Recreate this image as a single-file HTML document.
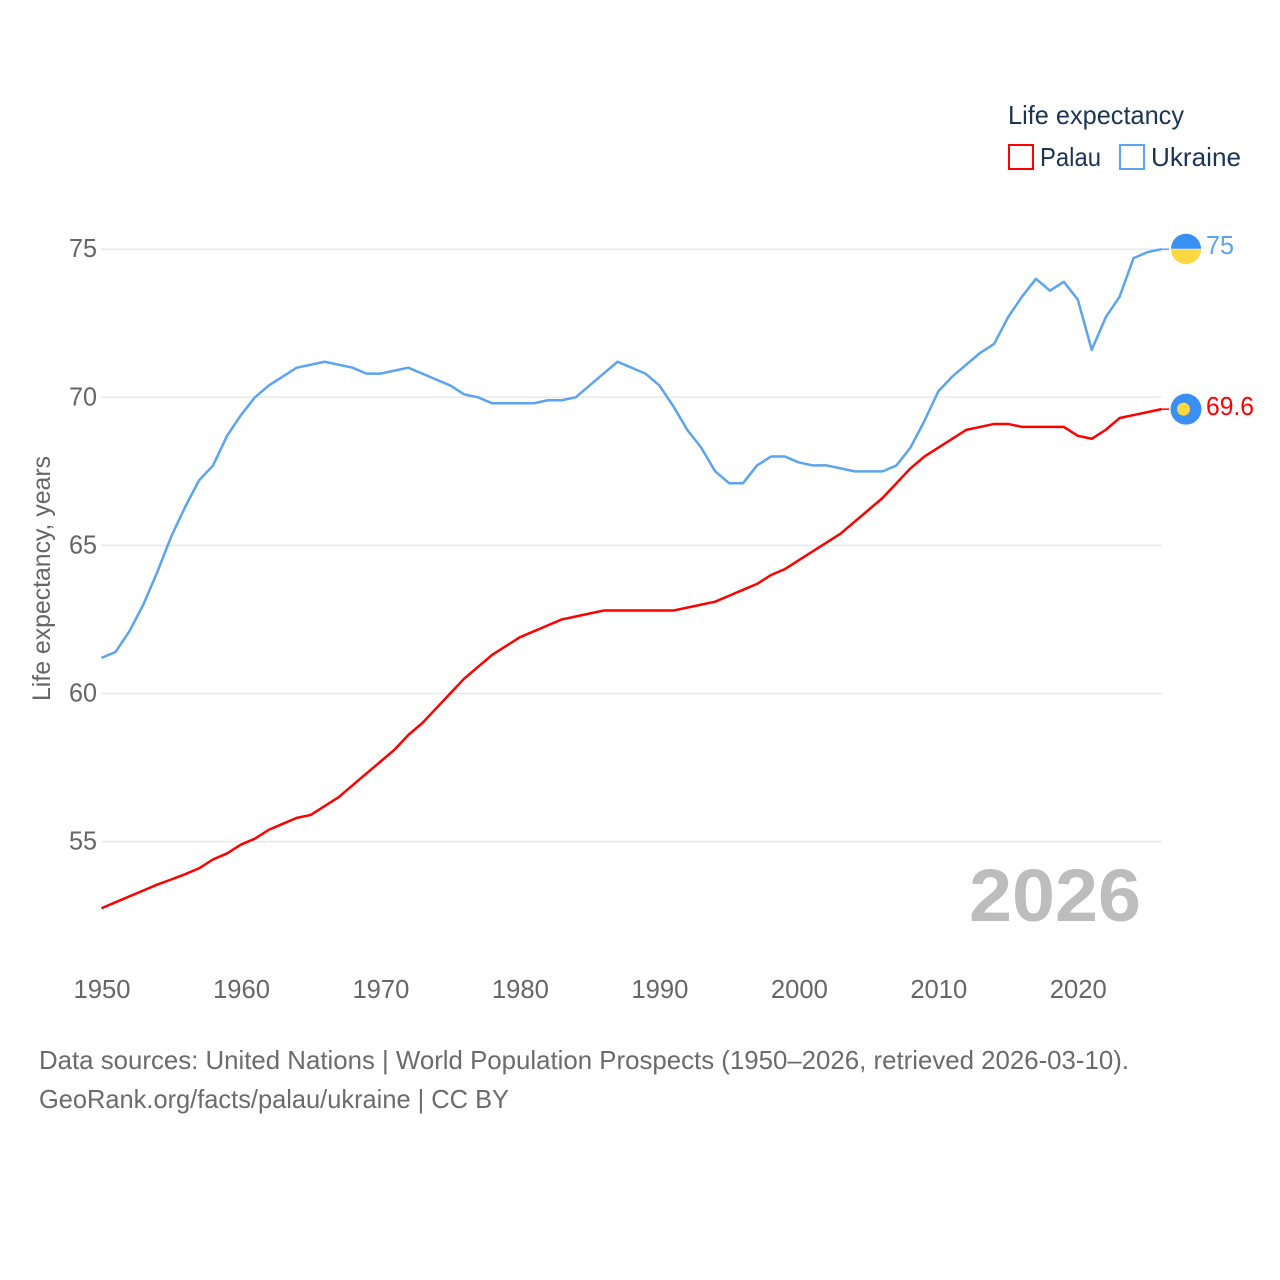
<!DOCTYPE html>
<html lang="en">
<head>
<meta charset="utf-8">
<title>Life expectancy: Palau and Ukraine</title>
<style>
html,body{margin:0;padding:0;background:#fff;}
svg{display:block;}
text{font-family:"Liberation Sans",sans-serif;}
</style>
</head>
<body>
<svg id="chart" xmlns="http://www.w3.org/2000/svg" width="1280" height="1280" viewBox="0 0 1280 1280">
  <rect x="0" y="0" width="1280" height="1280" fill="#ffffff"/>
  <g id="grid"></g>
  <g id="yticks"></g>
  <g id="xticks"></g>
  <text transform="translate(50,701) rotate(-90)" font-size="25" fill="#666666" textLength="245" lengthAdjust="spacingAndGlyphs">Life expectancy, years</text>
  <g id="series"></g>
  <g id="endmarks"></g>
  <text x="969" y="921" font-size="74" font-weight="700" fill="#bdbdbd" textLength="172" lengthAdjust="spacingAndGlyphs">2026</text>
  <g>
    <text x="1008" y="124" font-size="26" fill="#1b3454" textLength="176" lengthAdjust="spacingAndGlyphs">Life expectancy</text>
    <rect x="1009" y="145" width="24" height="24" fill="none" stroke="#ff0000" stroke-width="2"/>
    <text x="1040" y="166" font-size="26" fill="#1b3454" textLength="61" lengthAdjust="spacingAndGlyphs">Palau</text>
    <rect x="1120" y="145" width="24" height="24" fill="none" stroke="#5ba4ef" stroke-width="2"/>
    <text x="1151" y="166" font-size="26" fill="#1b3454" textLength="90" lengthAdjust="spacingAndGlyphs">Ukraine</text>
  </g>
  <text x="39" y="1069" font-size="26" fill="#6b6b6b" textLength="1090" lengthAdjust="spacingAndGlyphs">Data sources: United Nations | World Population Prospects (1950–2026, retrieved 2026-03-10).</text>
  <text x="39" y="1108" font-size="26" fill="#6b6b6b" textLength="470" lengthAdjust="spacingAndGlyphs">GeoRank.org/facts/palau/ukraine | CC BY</text>
</svg>
<script>
const startYear = 1950;
const yTickLabels = [55, 60, 65, 70, 75];
const xTickLabels = [1950, 1960, 1970, 1980, 1990, 2000, 2010, 2020];
const palauValues = [
  52.75,52.95,53.15,53.35,53.55,53.72,53.9,54.1,54.4,54.6,
  54.9,55.1,55.4,55.6,55.8,55.9,56.2,56.5,56.9,57.3,
  57.7,58.1,58.6,59,59.5,60,60.5,60.9,61.3,61.6,
  61.9,62.1,62.3,62.5,62.6,62.7,62.8,62.8,62.8,62.8,
  62.8,62.8,62.9,63,63.1,63.3,63.5,63.7,64,64.2,
  64.5,64.8,65.1,65.4,65.8,66.2,66.6,67.1,67.6,68,
  68.3,68.6,68.9,69,69.1,69.1,69,69,69,69,
  68.7,68.6,68.9,69.3,69.4,69.5,69.6
];
const ukraineValues = [
  61.2,61.4,62.1,63,64.1,65.3,66.3,67.2,67.7,68.7,
  69.4,70,70.4,70.7,71,71.1,71.2,71.1,71,70.8,
  70.8,70.9,71,70.8,70.6,70.4,70.1,70,69.8,69.8,
  69.8,69.8,69.9,69.9,70,70.4,70.8,71.2,71,70.8,
  70.4,69.7,68.9,68.3,67.5,67.1,67.1,67.7,68,68,
  67.8,67.7,67.7,67.6,67.5,67.5,67.5,67.7,68.3,69.2,
  70.2,70.7,71.1,71.5,71.8,72.7,73.4,74,73.6,73.9,
  73.3,71.6,72.7,73.4,74.7,74.9,75
];

const NS = 'http://www.w3.org/2000/svg';
const xScale = function (year) { return 101.5 + (year - 1950) * 13.947; };
const yScale = function (value) { return 693.5 - (value - 60) * 29.62; };
const plotRight = xScale(2026);

function make(tag, parent, attrs) {
  const el = document.createElementNS(NS, tag);
  for (const key in attrs) el.setAttribute(key, attrs[key]);
  parent.appendChild(el);
  return el;
}

const gridGroup = document.getElementById('grid');
const yTickGroup = document.getElementById('yticks');
yTickLabels.forEach(function (tick) {
  const line = make('line', gridGroup, { x1: 101, x2: plotRight, y1: yScale(tick), y2: yScale(tick), stroke: '#e9e9e9', 'stroke-width': 1.5 });
  
  
  const label = make('text', yTickGroup, { x: 69, y: yScale(tick) + 8, 'font-size': 26, fill: '#666666', textLength: 28, lengthAdjust: 'spacingAndGlyphs' });
  label.textContent = tick;
  
  
});

const xTickGroup = document.getElementById('xticks');
xTickLabels.forEach(function (tick) {
  const label = make('text', xTickGroup, { x: xScale(tick) - 28, y: 998, 'font-size': 26, fill: '#666666', textLength: 57, lengthAdjust: 'spacingAndGlyphs' });
  label.textContent = tick;
  
  
});

function pathFor(values) {
  return values.map(function (v, i) {
    return (i ? 'L' : 'M') + xScale(startYear + i).toFixed(2) + ' ' + yScale(v).toFixed(2);
  }).join(' ');
}

const seriesGroup = document.getElementById('series');
const ukraineLine = make('path', seriesGroup, { d: pathFor(ukraineValues), fill: 'none', stroke: '#5ba4ef', 'stroke-width': 2.5, 'stroke-linejoin': 'round' });


const palauLine = make('path', seriesGroup, { d: pathFor(palauValues), fill: 'none', stroke: '#ff0000', 'stroke-width': 2.5, 'stroke-linejoin': 'round' });



const endGroup = document.getElementById('endmarks');
const ukraineLast = ukraineValues[ukraineValues.length - 1];
const palauLast = palauValues[palauValues.length - 1];
const uy = yScale(ukraineLast);
const py = yScale(palauLast);

const uConn = make('line', endGroup, { x1: plotRight, x2: 1169, y1: uy, y2: uy, stroke: '#5ba4ef', 'stroke-width': 1.5 });


const pConn = make('line', endGroup, { x1: plotRight, x2: 1169, y1: py, y2: py, stroke: '#ff0000', 'stroke-width': 1.5 });



const uTop = make('path', endGroup, { d: 'M1171 ' + (uy - 0.5) + ' a15 15 0 0 1 30 0 z', fill: '#3a8ff3' });


const uBottom = make('path', endGroup, { d: 'M1171 ' + uy + ' a15 15 0 0 0 30 0 z', fill: '#ffd740' });



const pDisc = make('circle', endGroup, { cx: 1186, cy: py, r: 15.5, fill: '#3a8ff3' });


const pSun = make('circle', endGroup, { cx: 1183.5, cy: py, r: 6.5, fill: '#ffd740' });



const uLabel = make('text', endGroup, { x: 1206, y: uy + 5, 'font-size': 26, fill: '#5ba4ef', textLength: 28, lengthAdjust: 'spacingAndGlyphs' });
uLabel.textContent = ukraineLast;


const pLabel = make('text', endGroup, { x: 1206, y: py + 6, 'font-size': 26, fill: '#ff0000', textLength: 48, lengthAdjust: 'spacingAndGlyphs' });
pLabel.textContent = palauLast;


</script>
</body>
</html>
